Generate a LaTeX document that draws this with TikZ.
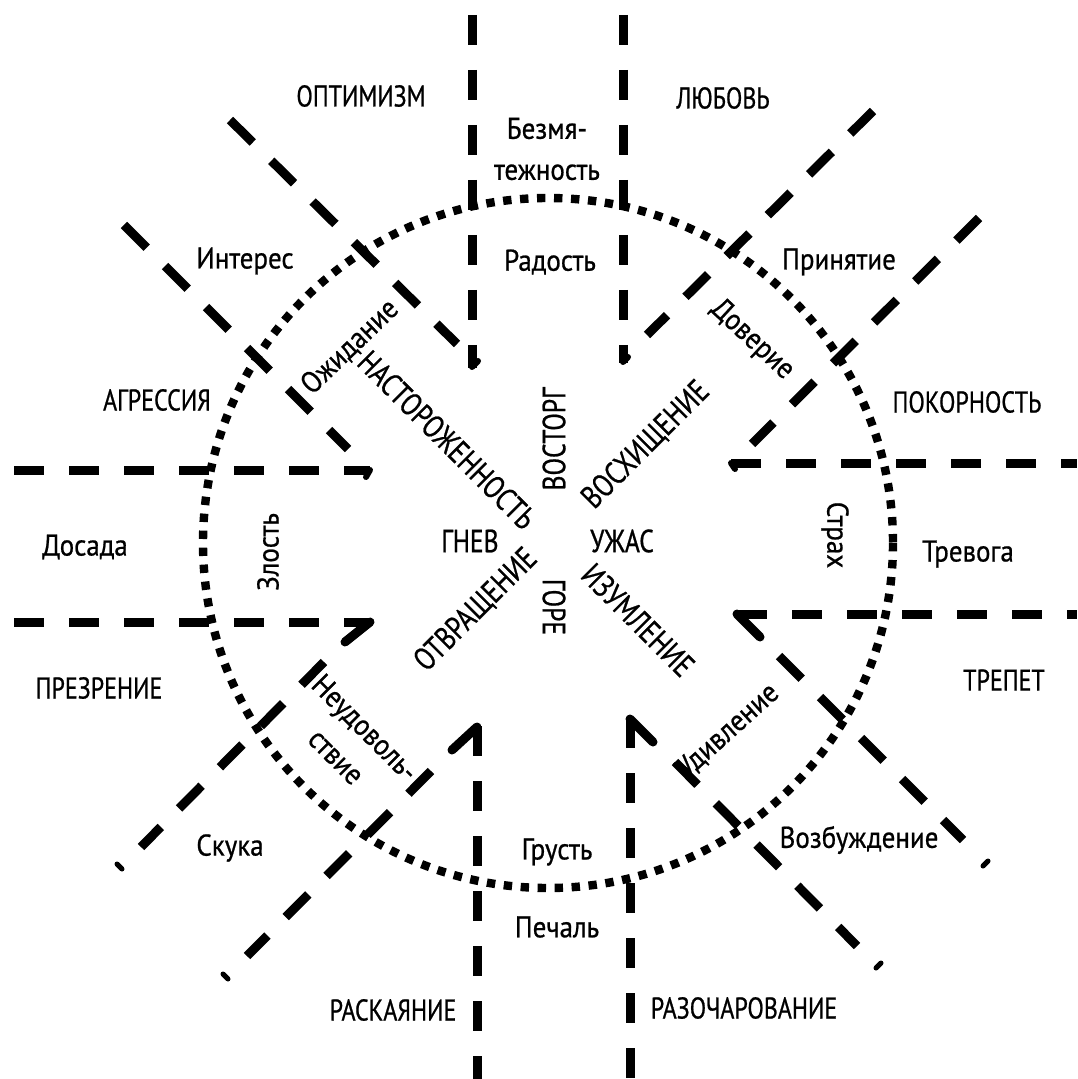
\documentclass[tikz,border=0pt]{standalone}
\usepackage{fontspec}
\setmainfont{PT Sans}[FakeStretch=0.9,FakeBold=0.7]
\newfontfamily\capfam{PT Sans}[FakeStretch=0.8,FakeBold=0.7]
\tikzset{
  hline/.style={line width=4.5pt, dash pattern=on 15pt off 12.5pt},
  dline/.style={line width=4.5pt, dash pattern=on 16pt off 13pt},
  barb/.style={line width=4.5pt, line cap=round},
  hookmark/.style={line width=3pt, line cap=round},
  tickmark/.style={line width=2.5pt, line cap=round},
  ring/.style={line width=4.2pt, dash pattern=on 4.2pt off 4.3pt},
  low/.style={font=\fontsize{15}{20.5}\selectfont, inner sep=0pt, align=center},
  dyad/.style={font=\capfam\fontsize{15}{19}\selectfont, inner sep=0pt},
  core/.style={font=\capfam\fontsize{16}{19}\selectfont, inner sep=0pt},
}
\begin{document}
\begin{tikzpicture}[x=0.5pt,y=-0.5pt]
\useasboundingbox[fill=white] (0,0) rectangle (1077,1079);

% ring
\draw[ring] (548,543) circle[radius=345];

% vertical lines top
\draw[hline] (472,15) -- (472,368);
\draw[hookmark] (472,367) -- (478,361);
\draw[hline] (623,15) -- (623,363);
\draw[hookmark] (623,362) -- (628,357);
% vertical lines bottom
\draw[hline] (477,726) -- (477,1079);
\draw[barb] (477,727) -- (452,750);
\draw[hline] (630,718) -- (630,1079);
\draw[barb] (630,719) -- (653,742);
% horizontal lines left
\draw[hline] (14,470) -- (370,470);
\draw[hookmark] (370,470) -- (366,477);
\draw[hline] (14,622) -- (370,622);
\draw[barb] (370,622) -- (345,642);
% horizontal lines right
\draw[hline] (731,463) -- (1077,463);
\draw[hookmark] (731,463) -- (735,469);
\draw[hline] (737,614) -- (1077,614);
\draw[barb] (737,614) -- (760,637);
% diagonals
\draw[dline] (230,120) -- (457,344);
\draw[dline] (124,225) -- (348,449);
\draw[dline] (873,111) -- (647,335);
\draw[dline] (979,218) -- (752,444);
\draw[dline] (779,656) -- (963,840);
\draw[dline] (675,762) -- (857,946);
\draw[dline] (324,662) -- (141,847);
\draw[dline] (431,771) -- (247,956);
\draw[tickmark] (983,866) -- (988,861);
\draw[tickmark] (876,968) -- (881,963);
\draw[tickmark] (117,864) -- (122,869);
\draw[tickmark] (223,974) -- (228,979);

% dyads
\node[dyad] (optimizm) at (361,96) {ОПТИМИЗМ};
\node[dyad] (lyubov) at (723,98) {ЛЮБОВЬ};
\node[dyad] (pokornost) at (967,402) {ПОКОРНОСТЬ};
\node[dyad] (trepet) at (1004,680) {ТРЕПЕТ};
\node[dyad] (razoch) at (744,1008) {РАЗОЧАРОВАНИЕ};
\node[dyad] (raskay) at (393,1010) {РАСКАЯНИЕ};
\node[dyad] (prezr) at (99,688) {ПРЕЗРЕНИЕ};
\node[dyad] (agress) at (157,400) {АГРЕССИЯ};

% outer ring
\node[low] (bezm) at (547,149) {Безмя-\\тежность};
\node[low] (prin) at (839,262) {Принятие};
\node[low] (trev) at (968,554) {Тревога};
\node[low] (vozb) at (859,840) {Возбуждение};
\node[low] (pech) at (557,927) {Печаль};
\node[low] (skuka) at (230,848) {Скука};
\node[low] (dosada) at (85,547) {Досада};
\node[low] (inter) at (245,261) {Интерес};

% middle ring
\node[low] (rad) at (550,262) {Радость};
\node[low, rotate=-43] (dov) at (752,340) {Доверие};
\node[low, rotate=-90] (strah) at (835,535) {Страх};
\node[low, rotate=42] (udiv) at (728,731) {Удивление};
\node[low] (grust) at (557,852) {Грусть};
\node[low, rotate=-45] (neud) at (351,742) {Неудоволь-\\ствие};
\node[low, rotate=90] (zlost) at (268,552) {Злость};
\node[low, rotate=44] (ozhid) at (350,347) {Ожидание};

% core
\node[core, rotate=90] (vostorg) at (554,439) {ВОСТОРГ};
\node[core, rotate=45] (voshish) at (646,445) {ВОСХИЩЕНИЕ};
\node[core] (uzhas) at (622,541) {УЖАС};
\node[core, rotate=-45] (izuml) at (638,620) {ИЗУМЛЕНИЕ};
\node[core, rotate=-90] (gore) at (554,607) {ГОРЕ};
\node[core, rotate=45] (otvr) at (476,610) {ОТВРАЩЕНИЕ};
\node[core] (gnev) at (470,541) {ГНЕВ};
\node[core, rotate=-45] (nastor) at (447,440) {НАСТОРОЖЕННОСТЬ};
\end{tikzpicture}
\end{document}
